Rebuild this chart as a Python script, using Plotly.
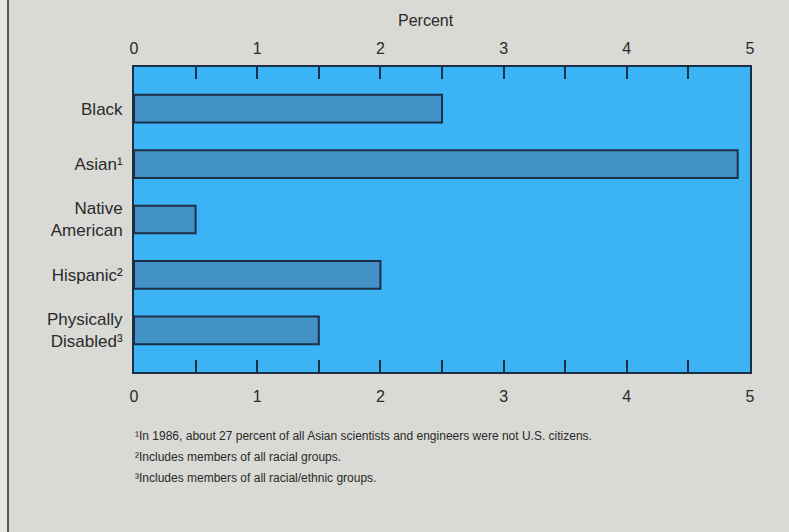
import plotly.graph_objects as go

categories = ["Black", "Asian¹", "Native<br>American", "Hispanic²", "Physically<br>Disabled³"]
values = [2.5, 4.9, 0.5, 2.0, 1.5]
tick_vals = [0, 1, 2, 3, 4, 5]
footnotes = [
    "¹In 1986, about 27 percent of all Asian scientists and engineers were not U.S. citizens.",
    "²Includes members of all racial groups.",
    "³Includes members of all racial/ethnic groups.",
]

dark = "#1d2f45"
fig = go.Figure()
fig.add_trace(go.Bar(x=values, y=categories, orientation="h", width=0.5,
                     marker=dict(color="#4292c8", line=dict(color=dark, width=2)),
                     showlegend=False, hoverinfo="skip"))
fig.add_trace(go.Bar(x=values, y=categories, orientation="h", width=0.5, xaxis="x2",
                     opacity=0, showlegend=False, hoverinfo="skip"))

axfont = dict(family="Liberation Sans, Arial", size=16, color="#2a2a2a")
common = dict(range=[0, 5], tickvals=tick_vals, ticks="inside", ticklen=12, tickwidth=1.5,
              tickcolor=dark, showgrid=False, zeroline=False, tickfont=axfont, ticklabelstandoff=9,
              minor=dict(dtick=0.5, ticks="inside", ticklen=12, tickwidth=1.5, tickcolor=dark, showgrid=False))
fig.update_layout(
    width=789, height=532,
    margin=dict(l=134, r=39, t=67, b=160, autoexpand=False),
    paper_bgcolor="#d9d9d5", plot_bgcolor="#3bb3f4",
    bargap=0.5,
    xaxis=dict(**common, showline=True, linecolor=dark, linewidth=2, mirror=True),
    xaxis2=dict(**common, overlaying="x", side="top", matches="x"),
    yaxis=dict(categoryorder="array", categoryarray=categories[::-1], range=[-0.75, 4.75],
               showline=True, linecolor=dark, linewidth=2, mirror=True, ticks="",
               tickfont=dict(family="Liberation Sans, Arial", size=17, color="#2a2a2a"),
               ticklabelstandoff=6, showgrid=False),
    font=dict(family="Liberation Sans, Arial"),
)
fig.add_annotation(text="Percent", xref="paper", yref="paper", x=0.474, y=1.154,
                   xanchor="center", yanchor="middle",
                   showarrow=False, font=dict(size=16, color="#2a2a2a"))
for i, t in enumerate(footnotes):
    fig.add_annotation(text=t, xref="paper", yref="paper", x=-0.002, y=-0.21 - i * 0.068,
                       xanchor="left", yanchor="middle", showarrow=False,
                       font=dict(family="Liberation Sans Narrow, Liberation Sans, Arial", size=12, color="#2a2a2a"))
fig.add_shape(type="rect", xref="paper", yref="paper", x0=-0.22, x1=-0.2045, y0=-0.53, y1=1.23,
              line=dict(width=0), fillcolor="#e6e6e3", layer="below")
fig.add_shape(type="line", xref="paper", yref="paper", x0=-0.2045, x1=-0.2045, y0=-0.53, y1=1.23,
              line=dict(color="#555", width=2))
fig.write_html("out.html", config={"displayModeBar": False},
               post_script="document.body.style.margin='0';document.body.style.background='#d9d9d5';")
